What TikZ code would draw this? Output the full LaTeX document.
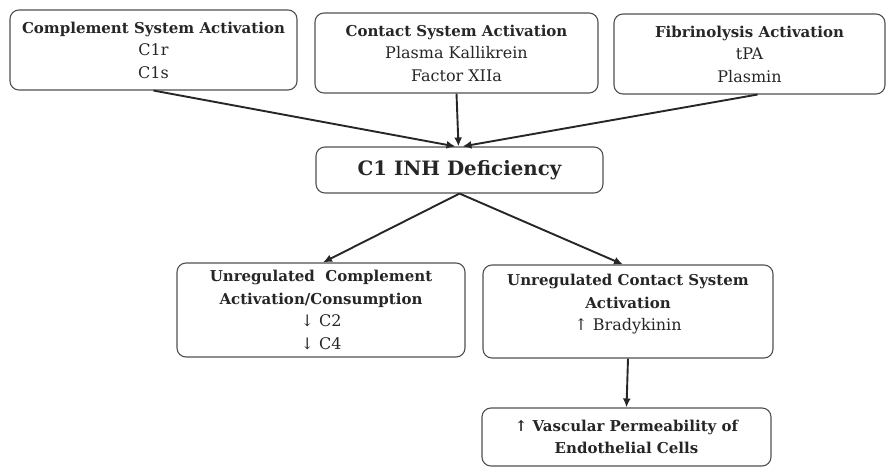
\documentclass[tikz,border=0pt]{standalone}
\usepackage{fontspec}
\setmainfont{DejaVu Serif}
\usetikzlibrary{arrows.meta, positioning}
\definecolor{inkgray}{HTML}{262626}
\definecolor{edgegray}{HTML}{505050}
\newcommand{\headline}[1]{{\fontsize{15}{22.5}\selectfont\bfseries #1}}

\begin{document}
\begin{tikzpicture}[x=1pt, y=-1pt,
    block/.style={rectangle, draw=edgegray, line width=1.1pt, rounded corners=9pt, align=center, text=inkgray, inner sep=0pt, font=\fontsize{16}{22.5}\selectfont},
    arrow/.style={draw=inkgray, line width=1.9pt, -{Latex[length=9pt,width=8pt]}}]
    \useasboundingbox (0,0) rectangle (889,468);
    % top row: activating proteases
    \node [block, minimum width=287pt, minimum height=80pt] (compl) at (153.5,50) {\headline{Complement System Activation}\\C1r\\C1s};
    \node [block, minimum width=283pt, minimum height=80pt] (contact) at (456.5,53) {\headline{Contact System Activation}\\Plasma Kallikrein\\Factor XIIa};
    \node [block, minimum width=271pt, minimum height=80pt] (fibrin) at (749.5,54) {\headline{Fibrinolysis Activation}\\tPA\\Plasmin};
    % central deficiency
    \node [block, minimum width=287pt, minimum height=46pt, font=\fontsize{19.8}{24}\selectfont\bfseries] (defic) at (459.5,170) {C1 INH Deficiency};
    % consequences
    \node [block, minimum width=288pt, minimum height=94pt] (unregcompl) at (321,310) {\headline{Unregulated\ \ Complement}\\\headline{Activation/Consumption}\\↓ C2\\↓ C4};
    \node [block, minimum width=290pt, minimum height=93pt] (unregcontact) at (628,311.5) {\headline{Unregulated Contact System}\\\headline{Activation}\\↑ Bradykinin\\[-5pt]};
    \node [block, minimum width=289pt, minimum height=58pt] (vasc) at (626.5,437) {\headline{↑ Vascular Permeability of}\\\headline{Endothelial Cells}};
    \draw [arrow] (compl.south) -- ([xshift=-4pt]defic.north);
    \draw [arrow] (contact.south) -- ([xshift=-1pt]defic.north);
    \draw [arrow] ([xshift=8pt]fibrin.south) -- ([xshift=3pt]defic.north);
    \draw [arrow] (defic.south) -- ([xshift=2pt]unregcompl.north);
    \draw [arrow] (defic.south) -- ([xshift=-5pt]unregcontact.north);
    \draw [arrow] (unregcontact.south) -- (vasc.north);
\end{tikzpicture}
\end{document}
